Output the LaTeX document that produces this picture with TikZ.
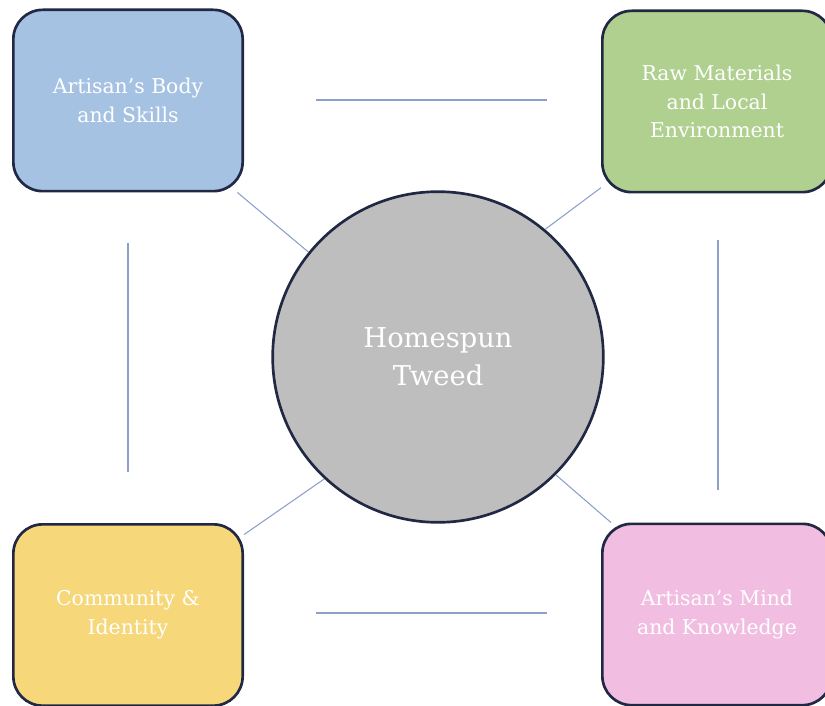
\documentclass[tikz,border=0pt]{standalone}
\usepackage{fontspec}
\setmainfont{DejaVu Serif}
\definecolor{bodyblue}{RGB}{165,194,227}
\definecolor{rawgreen}{RGB}{176,208,143}
\definecolor{commyellow}{RGB}{246,215,122}
\definecolor{mindpink}{RGB}{241,190,226}
\definecolor{hubgrey}{RGB}{190,190,190}
\definecolor{edgenavy}{RGB}{32,40,68}
\definecolor{linkblue}{RGB}{140,160,202}

\begin{document}
\begin{tikzpicture}[x=0.75pt, y=-0.75pt,
    topic/.style={rectangle, rounded corners=22pt, draw=edgenavy, line width=2pt,
        minimum width=172pt, minimum height=136pt, align=center, text=white,
        font=\fontsize{15.3}{21.5}\selectfont},
    hub/.style={circle, draw=edgenavy, line width=2pt, fill=hubgrey, minimum size=248pt,
        align=center, text=white, font=\fontsize{20.5}{28.5}\selectfont},
    link/.style={draw=linkblue, line width=0.8pt}]
    \useasboundingbox (0,0) rectangle (825,706);

    \node[hub] (tweed) at (438, 357) {Homespun\\Tweed};

    \node[topic, fill=bodyblue] (body) at (128, 100.5) {Artisan’s Body\\and Skills};
    \node[topic, fill=rawgreen] (raw) at (717, 101.5) {Raw Materials\\and Local\\Environment};
    \node[topic, fill=commyellow] (comm) at (128, 615) {Community \&\\Identity};
    \node[topic, fill=mindpink] (mind) at (717, 614.5) {Artisan’s Mind\\and Knowledge};

    % spokes to the hub
    \draw[link] (body) -- (tweed.141);
    \draw[link] (raw) -- (tweed.50);
    \draw[link] (comm) -- (tweed.227);
    \draw[link] (mind) -- (tweed.-45);

    % loose lines between the boxes
    \coordinate (topA) at (316, 100);
    \coordinate (topB) at (547, 100);
    \coordinate (botA) at (316, 613);
    \coordinate (botB) at (547, 613);
    \coordinate (leftA) at (128, 243);
    \coordinate (leftB) at (128, 472);
    \coordinate (rightA) at (718, 240);
    \coordinate (rightB) at (718, 490);
    \draw[link] (topA) -- (topB);
    \draw[link] (botA) -- (botB);
    \draw[link] (leftA) -- (leftB);
    \draw[link] (rightA) -- (rightB);
\end{tikzpicture}
\end{document}
